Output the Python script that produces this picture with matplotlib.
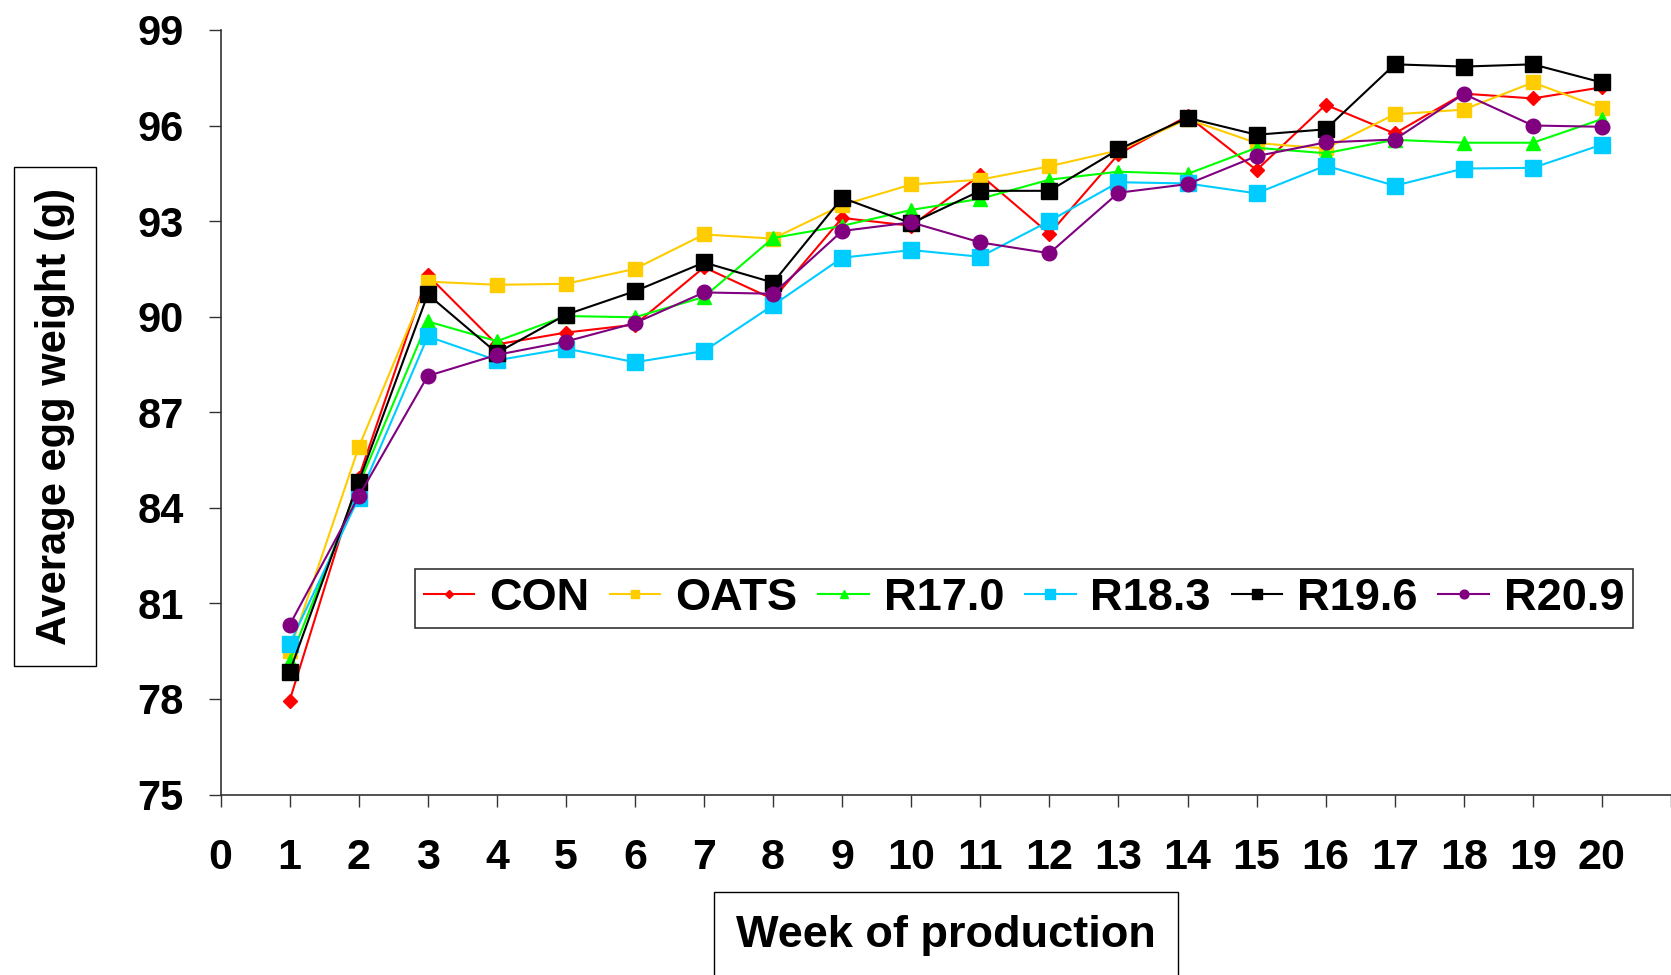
import matplotlib
matplotlib.use("Agg")
import matplotlib.pyplot as plt

weeks = list(range(1, 21))
tick_labels = [str(i) for i in range(0, 21)] + [""]

con = [77.95, 84.95, 91.30, 89.13, 89.50, 89.75, 91.55, 90.55, 93.10, 92.85,
       94.45, 92.60, 95.10, 96.30, 94.60, 96.65, 95.75, 97.00, 96.85, 97.20]
oats = [79.50, 85.90, 91.10, 91.00, 91.03, 91.50, 92.58, 92.45, 93.50, 94.15,
        94.30, 94.72, 95.22, 96.20, 95.45, 95.28, 96.35, 96.50, 97.35, 96.55]
r170 = [79.20, 84.70, 89.85, 89.23, 90.02, 89.98, 90.62, 92.47, 92.85, 93.35,
        93.70, 94.30, 94.55, 94.48, 95.30, 95.13, 95.55, 95.46, 95.46, 96.20]
r183 = [79.72, 84.32, 89.38, 88.63, 89.00, 88.57, 88.92, 90.36, 91.85, 92.09,
        91.88, 93.00, 94.22, 94.18, 93.87, 94.74, 94.11, 94.65, 94.67, 95.40]
r196 = [78.85, 84.82, 90.70, 88.86, 90.06, 90.80, 91.70, 91.07, 93.73, 92.93,
        93.95, 93.95, 95.25, 96.24, 95.71, 95.88, 97.92, 97.85, 97.92, 97.35]
r209 = [80.32, 84.36, 88.14, 88.80, 89.22, 89.80, 90.76, 90.72, 92.69, 92.96,
        92.33, 91.99, 93.89, 94.16, 95.04, 95.47, 95.56, 96.99, 96.00, 95.96]

plt.rcParams["font.family"] = ["Liberation Sans", "DejaVu Sans"]
plt.rcParams["font.weight"] = "bold"

fig = plt.figure(figsize=(16.71, 9.75), dpi=100)
ax = fig.add_axes([0.132, 0.1851, 0.868, 0.7842])

# series: label, values, colour, marker, size
series = [
    ("CON", con, "#FF0000", "D", 7.5),
    ("OATS", oats, "#FFCC00", "s", 10.5),
    ("R17.0", r170, "#00FF00", "^", 10.5),
    ("R18.3", r183, "#00CCFF", "s", 11.5),
    ("R19.6", r196, "#000000", "s", 11.5),
    ("R20.9", r209, "#800080", "o", 10.5),
]
for label, vals, col, mk, ms in series:
    ax.plot(weeks, vals, color=col, lw=1.5, marker=mk, markersize=ms,
            markerfacecolor=col, markeredgecolor=col, label=label)

ax.set_xlim(0, 21)
ax.set_ylim(75, 99)
ax.set_xticks(range(0, 22))
ax.set_xticklabels(tick_labels)
ax.set_yticks(range(75, 100, 3))

for s in ["top", "right"]:
    ax.spines[s].set_visible(False)
for s in ["left", "bottom"]:
    ax.spines[s].set_color("#333333")
    ax.spines[s].set_linewidth(1.2)

ax.tick_params(axis="y", length=8.6, width=1, color="#333333", pad=18, labelsize=30)
ax.tick_params(axis="x", length=8.6, width=1, color="#333333", pad=22.5, labelsize=31)
for t in ax.get_xticklabels() + ax.get_yticklabels():
    t.set_fontweight("bold")

leg = fig.legend(loc="center", bbox_to_anchor=(0.6128, 0.3862), ncol=6,
                 prop={"size": 32.5, "weight": "bold"}, markerscale=0.6,
                 handlelength=1.12, handletextpad=0.33, columnspacing=0.46,
                 borderpad=0.2, fancybox=False, frameon=True)
leg.get_frame().set_edgecolor("black")
leg.get_frame().set_linewidth(1.2)

fig.text(54.7 / 1671, 1 - 416.5 / 975, "Average egg weight (g)", rotation=90,
         ha="center", va="center", fontsize=30, fontweight="bold",
         bbox=dict(boxstyle="square,pad=0.5", fc="white", ec="black", lw=1))
fig.text(946 / 1671, 1 - 935 / 975, "Week of production",
         ha="center", va="center", fontsize=32.5, fontweight="bold",
         bbox=dict(boxstyle="square,pad=0.5", fc="white", ec="black", lw=1))

fig.savefig("out.png", dpi=100)
